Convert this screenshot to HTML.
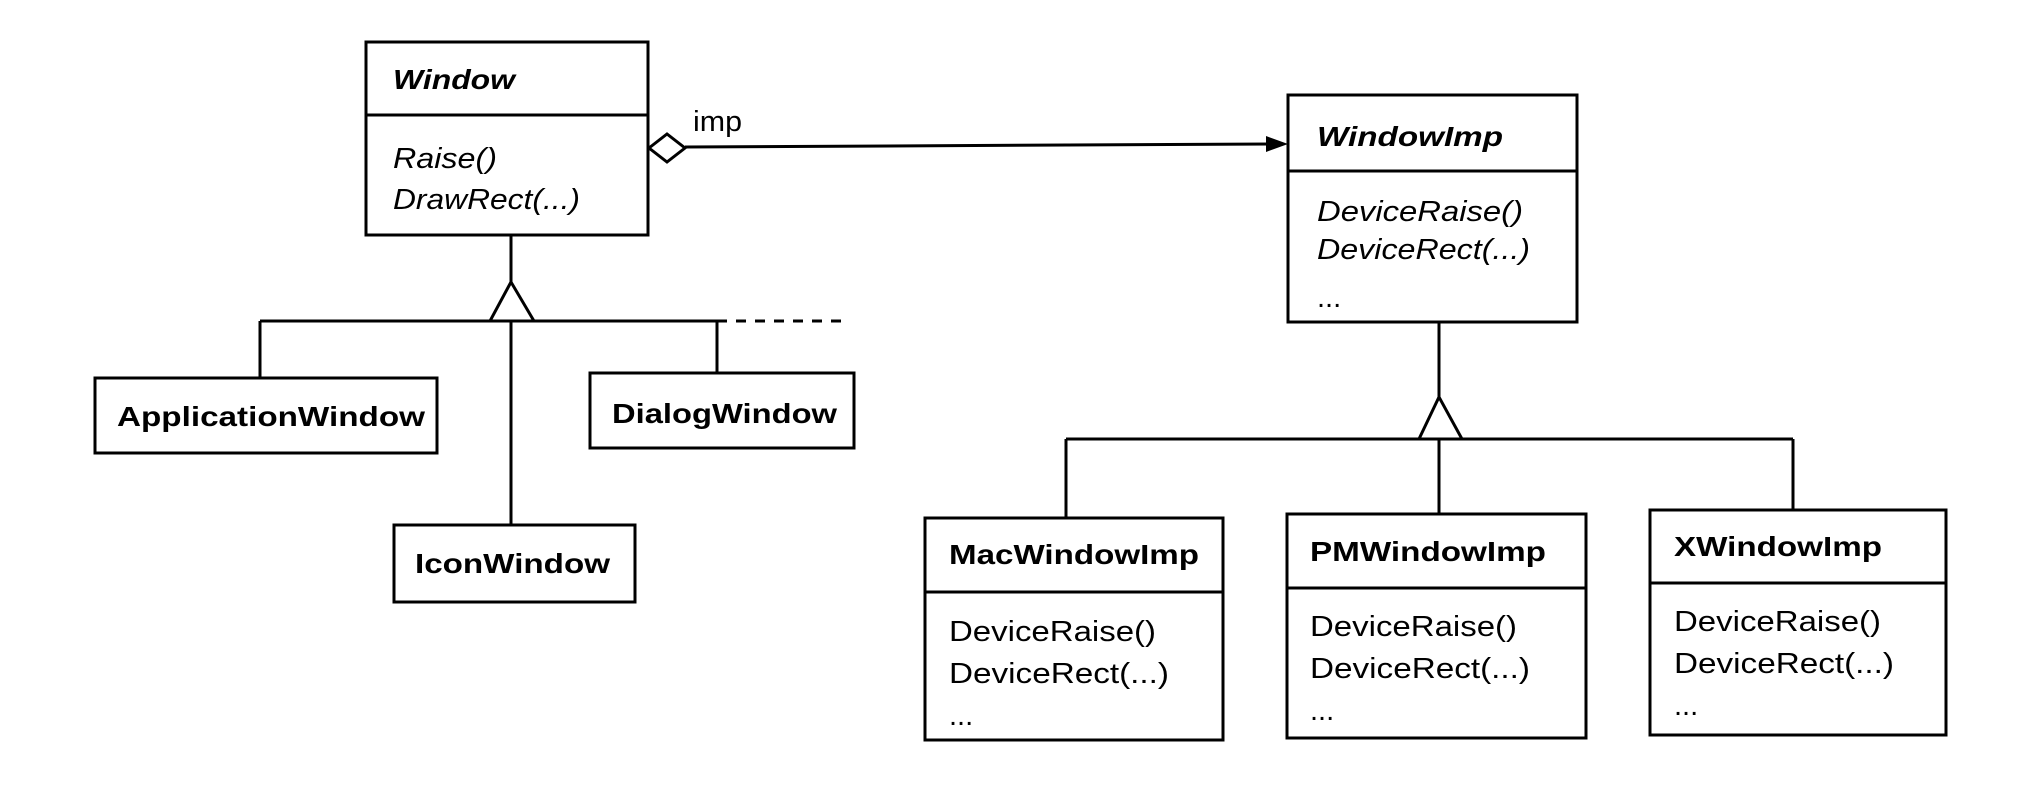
<!DOCTYPE html>
<html><head><meta charset="utf-8"><style>
html,body{margin:0;padding:0;background:#fff;}
svg{display:block;}
text{font-family:"Liberation Sans",Arial,sans-serif;fill:#000;}
.b{font-weight:bold;font-size:28px;}
.bi{font-weight:bold;font-style:italic;font-size:28px;}
.i{font-style:italic;font-size:29px;}
.r{font-size:29px;}
</style></head><body>
<svg width="2040" height="810" viewBox="0 0 2040 810" xmlns="http://www.w3.org/2000/svg">
<g fill="none" stroke="#000" stroke-width="3">
<rect x="366" y="42" width="282" height="193"/>
<line x1="366" y1="115" x2="648" y2="115"/>
<polygon points="649,148 667,134 685,148 667,162" fill="#fff"/>
<line x1="685" y1="147" x2="1272" y2="144"/>
<rect x="1288" y="95" width="289" height="227"/>
<line x1="1288" y1="171" x2="1577" y2="171"/>
<line x1="511" y1="235" x2="511" y2="282"/>
<polygon points="511,282 490,321 534,321" fill="#fff"/>
<line x1="260" y1="321" x2="717" y2="321"/>
<line x1="717" y1="321" x2="842" y2="321" stroke-dasharray="10,9"/>
<line x1="260" y1="321" x2="260" y2="378"/>
<line x1="511" y1="321" x2="511" y2="525"/>
<line x1="717" y1="321" x2="717" y2="373"/>
<rect x="95" y="378" width="342" height="75"/>
<rect x="590" y="373" width="264" height="75"/>
<rect x="394" y="525" width="241" height="77"/>
<line x1="1439" y1="322" x2="1439" y2="397"/>
<polygon points="1439,397 1419,439 1462,439" fill="#fff"/>
<line x1="1066" y1="439" x2="1793" y2="439"/>
<line x1="1066" y1="439" x2="1066" y2="518"/>
<line x1="1439" y1="439" x2="1439" y2="514"/>
<line x1="1793" y1="439" x2="1793" y2="510"/>
<rect x="925" y="518" width="298" height="222"/>
<line x1="925" y1="592" x2="1223" y2="592"/>
<rect x="1287" y="514" width="299" height="224"/>
<line x1="1287" y1="588" x2="1586" y2="588"/>
<rect x="1650" y="510" width="296" height="225"/>
<line x1="1650" y1="583" x2="1946" y2="583"/>
</g>
<polygon points="1288,144 1266,136 1266,152" fill="#000"/>

<text class="bi" x="393" y="89" textLength="122" lengthAdjust="spacingAndGlyphs">Window</text>
<text class="i" x="393" y="168" textLength="104" lengthAdjust="spacingAndGlyphs">Raise()</text>
<text class="i" x="393" y="209" textLength="187" lengthAdjust="spacingAndGlyphs">DrawRect(...)</text>
<text class="r" x="693" y="131" textLength="49" lengthAdjust="spacingAndGlyphs">imp</text>

<text class="bi" x="1317" y="146" textLength="186" lengthAdjust="spacingAndGlyphs">WindowImp</text>
<text class="i" x="1317" y="221" textLength="206" lengthAdjust="spacingAndGlyphs">DeviceRaise()</text>
<text class="i" x="1317" y="259" textLength="213" lengthAdjust="spacingAndGlyphs">DeviceRect(...)</text>
<text class="r" x="1317" y="307">...</text>

<text class="b" x="117" y="426" textLength="308" lengthAdjust="spacingAndGlyphs">ApplicationWindow</text>
<text class="b" x="612" y="423" textLength="225" lengthAdjust="spacingAndGlyphs">DialogWindow</text>
<text class="b" x="415" y="573" textLength="195" lengthAdjust="spacingAndGlyphs">IconWindow</text>

<text class="b" x="949" y="564" textLength="250" lengthAdjust="spacingAndGlyphs">MacWindowImp</text>
<text class="r" x="949" y="641" textLength="207" lengthAdjust="spacingAndGlyphs">DeviceRaise()</text>
<text class="r" x="949" y="683" textLength="220" lengthAdjust="spacingAndGlyphs">DeviceRect(...)</text>
<text class="r" x="949" y="725">...</text>

<text class="b" x="1310" y="561" textLength="236" lengthAdjust="spacingAndGlyphs">PMWindowImp</text>
<text class="r" x="1310" y="636" textLength="207" lengthAdjust="spacingAndGlyphs">DeviceRaise()</text>
<text class="r" x="1310" y="678" textLength="220" lengthAdjust="spacingAndGlyphs">DeviceRect(...)</text>
<text class="r" x="1310" y="720">...</text>

<text class="b" x="1674" y="556" textLength="208" lengthAdjust="spacingAndGlyphs">XWindowImp</text>
<text class="r" x="1674" y="631" textLength="207" lengthAdjust="spacingAndGlyphs">DeviceRaise()</text>
<text class="r" x="1674" y="673" textLength="220" lengthAdjust="spacingAndGlyphs">DeviceRect(...)</text>
<text class="r" x="1674" y="715">...</text>
</svg>
</body></html>
